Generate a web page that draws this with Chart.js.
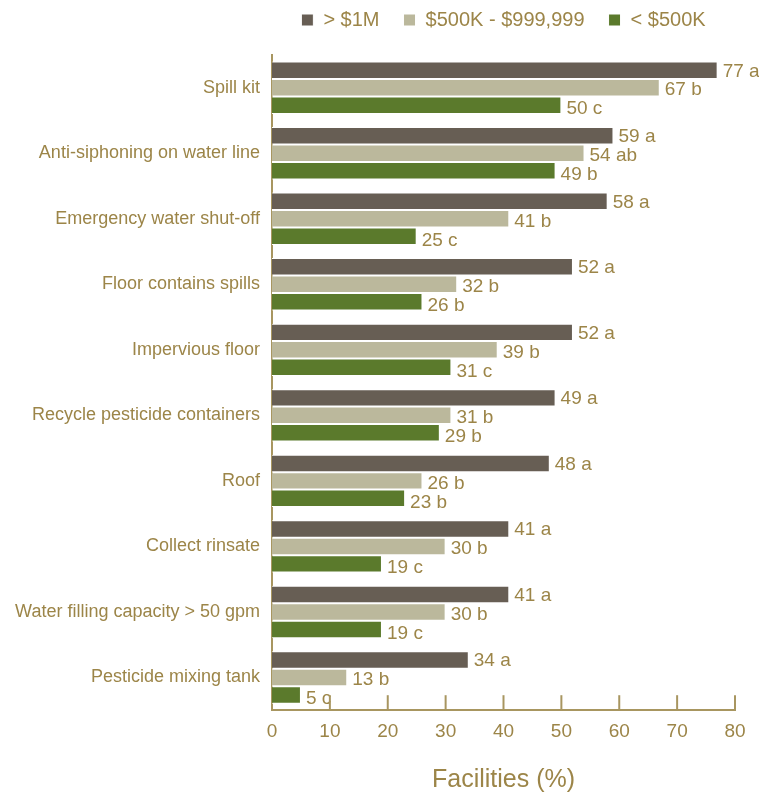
<!DOCTYPE html>
<html>
<head>
<meta charset="utf-8">
<script src="https://cdn.jsdelivr.net/npm/chart.js@4.4.1/dist/chart.umd.min.js"></script>
<style>
  html, body { margin: 0; padding: 0; background: #fff; }
  #wrap { width: 759px; height: 800px; }
</style>
</head>
<body>
<div id="wrap"><canvas id="myChart" width="759" height="800"></canvas></div>
<script>
var categories = [
  'Spill kit',
  'Anti-siphoning on water line',
  'Emergency water shut-off',
  'Floor contains spills',
  'Impervious floor',
  'Recycle pesticide containers',
  'Roof',
  'Collect rinsate',
  'Water filling capacity > 50 gpm',
  'Pesticide mixing tank'
];
var seriesNames = ['> $1M', '$500K - $999,999', '< $500K'];
var over1M   = [77, 59, 58, 52, 52, 49, 48, 41, 41, 34];
var mid      = [67, 54, 41, 32, 39, 31, 26, 30, 30, 13];
var under500 = [50, 49, 25, 26, 31, 29, 23, 19, 19, 5];
var over1MLetters   = ['a', 'a', 'a', 'a', 'a', 'a', 'a', 'a', 'a', 'a'];
var midLetters      = ['b', 'ab', 'b', 'b', 'b', 'b', 'b', 'b', 'b', 'b'];
var under500Letters = ['c', 'b', 'c', 'b', 'c', 'b', 'b', 'c', 'c', 'c'];
var xTicks = [0, 10, 20, 30, 40, 50, 60, 70, 80];

var gold = '#9c8548';
var axisGold = '#a89660';
var fontFam = "'Liberation Sans Narrow', 'Arial Narrow', 'Liberation Sans', sans-serif";

// leave a gap under the legend before the plot starts
var legendGap = {
  id: 'legendGap',
  afterInit: function(chart) {
    var lg = chart.legend;
    if (!lg) return;
    var origFit = lg.fit;
    lg.fit = function() {
      origFit.apply(this, arguments);
      this.height += 15;
    };
  }
};

// inward tick marks on the x axis
var tickPlugin = {
  id: 'upTicks',
  afterDraw: function(chart) {
    var ctx = chart.ctx;
    var xs = chart.scales.x;
    var bottom = xs.top;
    ctx.save();
    ctx.strokeStyle = axisGold;
    ctx.lineWidth = 2;
    xTicks.forEach(function(v) {
      if (v === 0) return;
      var px = xs.getPixelForValue(v);
      ctx.beginPath();
      ctx.moveTo(px, bottom);
      ctx.lineTo(px, bottom - 15);
      ctx.stroke();
    });
    ctx.restore();
  }
};

// value + letter labels at bar ends
var labelPlugin = {
  id: 'barLabels',
  afterDatasetsDraw: function(chart) {
    var ctx = chart.ctx;
    ctx.save();
    ctx.fillStyle = gold;
    ctx.font = '19px ' + fontFam;
    ctx.textAlign = 'left';
    ctx.textBaseline = 'middle';
    chart.data.datasets.forEach(function(ds, di) {
      var meta = chart.getDatasetMeta(di);
      meta.data.forEach(function(bar, i) {
        var txt = ds.data[i] + ' ' + ds.letters[i];
        ctx.fillText(txt, bar.x + 5, bar.y + 1 + di * 1.5);
      });
    });
    ctx.restore();
  }
};

var ctx = document.getElementById('myChart').getContext('2d');
new Chart(ctx, {
  type: 'bar',
  data: {
    labels: categories,
    datasets: [{
      label: seriesNames[0],
      data: over1M,
      letters: over1MLetters,
      backgroundColor: '#675e54',
      borderColor: '#ffffff',
      borderWidth: 1
    }, {
      label: seriesNames[1],
      data: mid,
      letters: midLetters,
      backgroundColor: '#bbb89c',
      borderColor: '#ffffff',
      borderWidth: 1
    }, {
      label: seriesNames[2],
      data: under500,
      letters: under500Letters,
      backgroundColor: '#5b7a2c',
      borderColor: '#ffffff',
      borderWidth: 1
    }]
  },
  options: {
    indexAxis: 'y',
    responsive: false,
    animation: false,
    layout: { padding: { top: -14, right: 24, bottom: 5, left: 0 } },
    datasets: { bar: { categoryPercentage: 0.8, barPercentage: 1.0 } },
    plugins: {
      legend: {
        position: 'top',
        fullSize: false,
        labels: {
          color: gold,
          font: { size: 20, family: fontFam },
          boxWidth: 12,
          boxHeight: 12,
          padding: 24
        }
      },
      tooltip: { enabled: false }
    },
    scales: {
      x: {
        min: 0,
        max: 80,
        ticks: { stepSize: 10, color: gold, font: { size: 19, family: fontFam }, padding: 10 },
        grid: { display: false, drawTicks: false },
        border: { color: axisGold, width: 2 },
        title: {
          display: true,
          text: 'Facilities (%)',
          color: gold,
          font: { size: 25, family: fontFam },
          padding: { top: 12, bottom: 0 }
        }
      },
      y: {
        ticks: { color: gold, font: { size: 18, family: fontFam }, padding: 12 },
        grid: { display: false, drawTicks: false },
        border: { color: axisGold, width: 2 },
        afterFit: function(scale) { scale.width = 272; }
      }
    }
  },
  plugins: [legendGap, tickPlugin, labelPlugin]
});
</script>
</body>
</html>
